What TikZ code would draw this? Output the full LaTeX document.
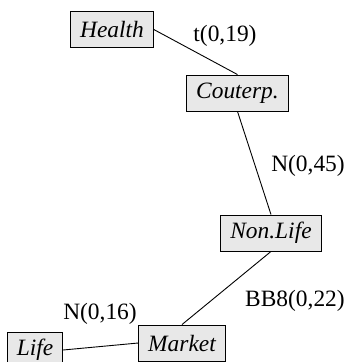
\documentclass[tikz,border=0pt]{standalone}
\usepackage{fontspec}
\setmainfont{Liberation Serif}
\usepackage{tikz}
\tikzstyle{factor}=[draw=black,fill=black!9,line width=0.9bp,inner xsep=9.5bp,inner ysep=0pt,minimum height=36bp,font=\itshape]
\tikzstyle{dist}=[inner sep=0pt]
\tikzstyle{link}=[line width=0.9bp]

\begin{document}
\begin{tikzpicture}[x=1bp,y=-1bp]
    \useasboundingbox (0,0) rectangle (351,362);
    \fontsize{23.5}{28}\selectfont
    \node[factor] (health)  at (112,29.5) {Health};
    \node[factor] (couterp) at (237.5,93) {Couterp.};
    \node[factor] (nonlife) at (271,233)  {Non.Life};
    \node[factor] (market)  at (182,343)  {Market};
    \node[factor] (life)    at (35,350)   {Life};
    \draw[link] (health.east) -- (couterp.north);
    \draw[link] (couterp.south) -- (nonlife.north);
    \draw[link] (nonlife.south) -- (market.north);
    \draw[link] (life.east) -- (market.west);
%    distribution labels
    \node[dist] (t19)  at (225,36)  {t(0,19)};
    \node[dist] (n45)  at (308,166) {N(0,45)};
    \node[dist] (bb22) at (295,301) {BB8(0,22)};
    \node[dist] (n16)  at (100,314) {N(0,16)};
\end{tikzpicture}
\end{document}
